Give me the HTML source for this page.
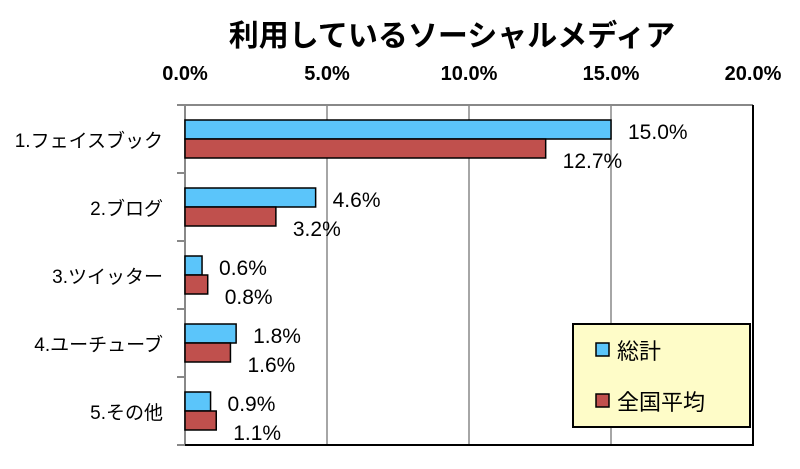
<!DOCTYPE html>
<html><head><meta charset="utf-8"><style>
body{margin:0;background:#fff;}
svg text{font-family:"Liberation Sans","Noto Sans CJK JP",sans-serif;}
</style></head><body>
<svg id="chart" width="800" height="464" viewBox="0 0 800 464">
<text x="452" y="46" font-size="30" font-weight="bold" text-anchor="middle" font-family="'Noto Sans CJK JP',sans-serif">利用しているソーシャルメディア</text>
<g id="grid"></g><g id="bars"></g><g id="labels"></g>
<g>
<rect x="573" y="324" width="177" height="103" fill="#fefcc8" stroke="#000" stroke-width="2"/>
<rect x="596" y="343" width="13" height="13" fill="#5bc5fa" stroke="#000" stroke-width="1.5"/>
<text x="617" y="359" font-size="22">総計</text>
<rect x="596" y="394" width="13" height="13" fill="#c0504d" stroke="#000" stroke-width="1.5"/>
<text x="617" y="410" font-size="22">全国平均</text>
</g>
</svg>
<script>
const categories=["1.フェイスブック","2.ブログ","3.ツイッター","4.ユーチューブ","5.その他"];
const totalValues=[15.0,4.6,0.6,1.8,0.9];
const nationalValues=[12.7,3.2,0.8,1.6,1.1];
const tickValues=[0,5,10,15,20];
const NS="http://www.w3.org/2000/svg";
const x0=185,x1=753,plotTop=105,band=68,maxV=20;
const xs=v=>x0+(x1-x0)*v/maxV;
function mk(tag,attrs,parent,text){const e=document.createElementNS(NS,tag);for(const k in attrs)e.setAttribute(k,attrs[k]);if(text!=null)e.textContent=text;parent.appendChild(e);return e;}
const grid=document.getElementById('grid'),bars=document.getElementById('bars'),labels=document.getElementById('labels');
const plotBottom=plotTop+band*categories.length;
tickValues.forEach(t=>{
 const g=mk('line',{x1:xs(t),x2:xs(t),y1:plotTop,y2:plotBottom,stroke:'#888','stroke-width':1.5},grid);
 
 
 const tl=mk('text',{x:xs(t),y:80,'font-size':20,'font-weight':'bold','text-anchor':'middle'},grid,t.toFixed(1)+'%');
 
 
});
mk('line',{x1:x0,x2:x0,y1:plotTop,y2:plotBottom,stroke:'#888','stroke-width':2},grid);
mk('line',{x1:x0-8,x2:x1,y1:plotTop,y2:plotTop,stroke:'#888','stroke-width':2},grid);
mk('polyline',{points:`${x0},${plotBottom} ${x1},${plotBottom} ${x1},${plotTop}`,fill:'none',stroke:'#000','stroke-width':2},grid);
for(let i=0;i<=categories.length;i++){mk('line',{x1:x0-8,x2:x0,y1:plotTop+i*band,y2:plotTop+i*band,stroke:'#888','stroke-width':2},grid);}
categories.forEach((c,i)=>{
 const y=plotTop+i*band+15;
 const b1=mk('rect',{x:x0,y:y,width:xs(totalValues[i])-x0,height:19,fill:'#5bc5fa',stroke:'#000','stroke-width':1.5},bars);
 
 
 const b2=mk('rect',{x:x0,y:y+19,width:xs(nationalValues[i])-x0,height:19,fill:'#c0504d',stroke:'#000','stroke-width':1.5},bars);
 
 
 const cl=mk('text',{x:163,y:y+27,'font-size':19,'text-anchor':'end'},labels,c);
 
 
 const v1=mk('text',{x:xs(totalValues[i])+17,y:y+19,'font-size':21},labels,totalValues[i].toFixed(1)+'%');
 
 
 const v2=mk('text',{x:xs(nationalValues[i])+17,y:y+48,'font-size':21},labels,nationalValues[i].toFixed(1)+'%');
 
 
});
</script>
</body></html>
